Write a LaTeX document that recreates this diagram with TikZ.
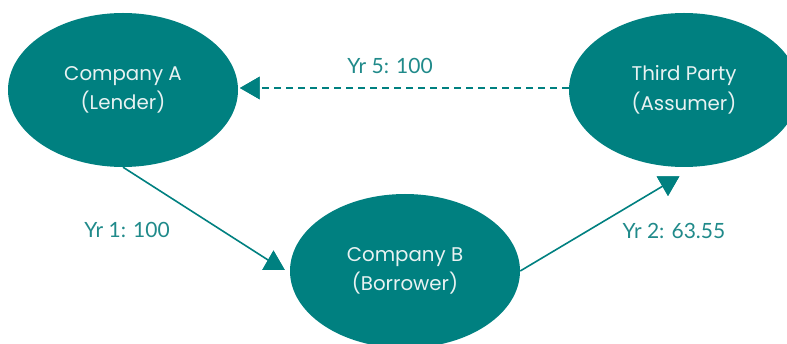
\documentclass[tikz,border=0pt]{standalone}
\usepackage{fontspec}
\setmainfont{Lato}
\newfontfamily\nodefont{Poppins}
\usetikzlibrary{shapes.geometric}
\definecolor{teal1}{RGB}{0,128,128}
\definecolor{labelteal}{RGB}{32,138,138}
\definecolor{paletext}{RGB}{232,242,242}
\tikzset{
  party/.style={ellipse, fill=teal1, draw=none, minimum width=230pt, minimum height=154pt,
    inner sep=0pt, align=center, text=paletext,
    font=\nodefont\fontsize{19.8}{29.5}\selectfont},
  tip/.style={regular polygon, regular polygon sides=3, fill=teal1, draw=none,
    inner sep=0pt, minimum size=26pt},
  flow/.style={draw=teal1, line width=1.6pt},
  dflow/.style={draw=teal1, line width=2pt, dash pattern=on 7pt off 5pt},
  amount/.style={text=labelteal, font=\fontsize{21}{25}\selectfont, inner sep=0pt}
}
\begin{document}
\begin{tikzpicture}[x=1pt, y=-1pt]
  \useasboundingbox (0,0) rectangle (787,344);
  \clip (0,0) rectangle (787,344);

  % the three parties
  \node[party] (A)  at (123,90)  {Company A\\(Lender)};
  \node[party] (TP) at (684,90)  {Third Party\\(Assumer)};
  \node[party] (B)  at (405,271) {Company B\\(Borrower)};

  % arrow heads
  \node[tip] (tB)  at (273.5,263.5) {};
  \node[tip, rotate=180] (tTP) at (668,183) {};
  \node[tip, rotate=90]  (tA)  at (253,88) {};

  % connectors
  \draw[flow]  (A.south) -- (tB.center);
  \draw[flow]  (B.east)  -- (tTP.center);
  \draw[dflow] (TP.west |- tA.center) -- (tA.center);

  % redraw tips above the lines
  \node[tip] at (tB) {};
  \node[tip, rotate=180] at (tTP) {};
  \node[tip, rotate=90] at (tA) {};

  % amounts
  \node[amount] (l5) at (390,66)  {Yr 5: 100};
  \node[amount] (l1) at (127,230) {Yr 1: 100};
  \node[amount] (l2) at (674,231) {Yr 2: 63.55};
\end{tikzpicture}
\end{document}
